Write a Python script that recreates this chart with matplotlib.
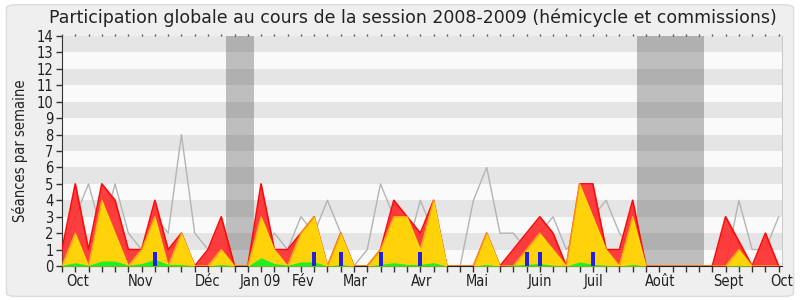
import matplotlib
matplotlib.use("Agg")
import matplotlib.pyplot as plt
from matplotlib.patches import FancyBboxPatch
import numpy as np

# semaines de sept. 2008 a oct. 2009
semaines = list(range(55))

# présences (hémicycle + commissions)
presences = [1, 5, 1, 5, 4, 1, 1, 4, 1, 2, 0, 1, 3, 0, 0, 5, 1, 1, 2, 3,
             0, 2, 0, 0, 1, 4, 3, 2, 4, 0, 0, 0, 2, 0, 1, 2, 3, 2, 0, 5,
             5, 1, 1, 4, 0, 0, 0, 0, 0, 0, 3, 1.5, 0, 2, 0]
# participations
participations = [0, 2, 0, 4, 2, 0, 1, 3, 0, 2, 0, 0, 1, 0, 0, 3, 1, 0, 2, 3,
                  0, 2, 0, 0, 1, 3, 3, 1, 4, 0, 0, 0, 2, 0, 0, 1, 2, 1, 0, 5,
                  3, 1, 0, 3, 0, 0, 0, 0, 0, 0, 0, 1, 0, 0, 0]
# interventions
interventions = [0.05, 0.2, 0.05, 0.3, 0.3, 0.05, 0.15, 0.4, 0.1, 0.1, 0, 0, 0.1, 0, 0,
                 0.5, 0.15, 0.05, 0.25, 0.25, 0, 0.1, 0, 0, 0.1, 0.2, 0.1, 0.1, 0.2, 0,
                 0, 0, 0.1, 0, 0.05, 0.1, 0.15, 0.05, 0, 0.25, 0.1, 0.05, 0, 0.1, 0,
                 0, 0, 0, 0, 0, 0, 0.05, 0, 0, 0]
# médiane des députés
mediane = [1, 3, 5, 2, 5, 2, 1, 3, 2, 8, 2, 1, 1, 0, 0, 1, 2, 1, 3, 2,
           4, 2, 0, 1, 5, 3, 1, 4, 2, 0, 0, 4, 6, 2, 2, 1, 2, 3, 1, 2,
           3, 4, 2, 1, 0, 0, 0, 0, 0, 0, 0, 4, 1, 1, 3]
# questions orales
semaines_questions = [7, 19, 21, 24, 27, 35, 36, 40]
questions = [0.85, 0.85, 0.85, 0.85, 0.85, 0.85, 0.85, 0.85]

# vacances parlementaires
vacances = [(12.35, 14.45), (43.35, 48.35)]

mois = ["Oct", "Nov", "Déc", "Jan 09", "Fév", "Mar", "Avr", "Mai",
        "Juin", "Juil", "Août", "Sept", "Oct"]
pos_mois = [1.15, 5.95, 10.95, 14.95, 18.15, 22.1, 27.1, 31.3,
            36.0, 40.05, 45.1, 50.2, 54.25]

fig = plt.figure(figsize=(8, 3), dpi=100)
fig.patch.set_facecolor("white")
fond = FancyBboxPatch((0.008, 0.012), 0.984, 0.972,
                      boxstyle="round,pad=0,rounding_size=0.012",
                      transform=fig.transFigure, facecolor="#efefef",
                      edgecolor="#dcdcdc", lw=1, zorder=-10)
fig.patches.append(fond)

ax = fig.add_axes([0.0775, 0.1133, 0.9, 0.7667])
ax.set_zorder(1)
ax.set_facecolor("#fafafa")

# bandes horizontales
for y in range(1, 14, 2):
    ax.axhspan(y, y + 1, color="#e5e5e5", lw=0, zorder=0)
for a, b in vacances:
    ax.axvspan(a, b, color="#444444", alpha=0.33, lw=0, zorder=1)

x = np.array(semaines)
ax.plot(x, mediane, color="#b4b4b4", lw=1, zorder=2)
ax.fill_between(x, presences, color="#ff2a2a", alpha=0.9, lw=0, zorder=3)
ax.plot(x, presences, color="#ff0a0a", lw=1.2, zorder=3)
ax.fill_between(x, participations, color="#ffd20a", lw=0, zorder=4)
ax.plot(x, participations, color="#ffee00", lw=1, alpha=0.6, zorder=4)
ax.fill_between(x, interventions, color="#22ee22", lw=0, zorder=5)
ax.bar(semaines_questions, questions, width=0.3, color="#2020dd", zorder=6)

ax.set_xlim(0, 54)
ax.set_ylim(0, 14)
ax.set_yticks(range(15))
ax.xaxis.remove_overlapping_locs = False
ax.set_xticks(semaines)
ax.set_xticklabels([])
ax.set_xticks(pos_mois, mois, minor=True)
ax.tick_params(axis="x", which="major", length=4, width=1, color="#333333")
ax.tick_params(axis="x", which="minor", length=0, pad=6, labelsize=10.5)
ax.tick_params(axis="y", length=4, width=1, color="#333333", labelsize=10.5, pad=2)
for lab in ax.get_xticklabels(minor=True) + ax.get_yticklabels():
    lab.set_fontstretch("condensed")
    lab.set_color("#222222")

top = ax.secondary_xaxis("top")
top.set_xticks(semaines)
top.tick_params(length=1.5, width=1, color="#555555", labeltop=False)
top.spines["top"].set_visible(False)

ax.spines["top"].set_visible(False)
ax.spines["right"].set_color("#cccccc")
ax.spines["left"].set_color("#333333")
ax.spines["bottom"].set_color("#222222")

ax.set_ylabel("Séances par semaine", fontsize=10.5, fontstretch="condensed",
              color="#222222", labelpad=6)
fig.text(0.516, 0.94, "Participation globale au cours de la session 2008-2009 (hémicycle et commissions)",
         ha="center", va="center", fontsize=12.5, color="#222222")

plt.savefig("out.png", dpi=100, facecolor=fig.get_facecolor())
